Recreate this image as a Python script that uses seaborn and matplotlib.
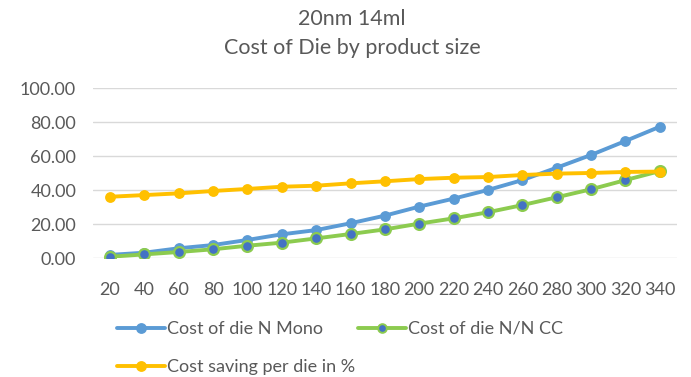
import numpy as np
import pandas as pd
import seaborn as sns
import matplotlib.pyplot as plt
from matplotlib.lines import Line2D

# Product sizes and per-die series
sizes = [20, 40, 60, 80, 100, 120, 140, 160, 180, 200, 220, 240, 260, 280, 300, 320, 340]
mono_cost = [2.0, 3.3, 5.9, 7.8, 10.8, 14.1, 16.6, 20.6, 25.1, 30.4, 35.1, 40.2, 46.0, 53.3, 60.8, 69.0, 77.4]
nncc_cost = [0.9, 2.3, 3.7, 5.3, 7.4, 9.2, 11.7, 14.3, 17.0, 20.4, 23.5, 27.1, 31.3, 35.9, 40.6, 46.0, 51.3]
saving_pct = [36.2, 37.2, 38.2, 39.6, 40.8, 42.1, 42.7, 44.1, 45.3, 46.6, 47.4, 47.8, 49.0, 49.8, 50.2, 50.8, 51.0]
series_names = ["Cost of die N Mono", "Cost of die N/N CC", "Cost saving per die in %"]
y_ticks = [0, 20, 40, 60, 80, 100]

sns.set_theme(style="white")
plt.rcParams["font.family"] = ["Lato", "DejaVu Sans"]
text_color = "#595959"
W, H = 691, 377

fig = plt.figure(figsize=(W / 100, H / 100), dpi=100)
ax = fig.add_axes([92.8 / W, 1 - 258.3 / H, (677 - 92.8) / W, 170 / H])

pos = np.arange(len(sizes))
df = pd.DataFrame({"pos": pos, "mono": mono_cost, "nncc": nncc_cost, "saving": saving_pct})

blue = "#5B9BD5"
green = "#8CCB4F"
inner_blue = "#4472C4"
yellow = "#FFC000"

lw = 2.8
ms = 7.8
sns.lineplot(data=df, x="pos", y="mono", ax=ax, color=blue, linewidth=lw,
             marker="o", markersize=ms, markeredgewidth=0, markerfacecolor=blue, zorder=3)
sns.lineplot(data=df, x="pos", y="nncc", ax=ax, color=green, linewidth=lw,
             marker="o", markersize=ms, markeredgewidth=1.6, markeredgecolor=green,
             markerfacecolor=inner_blue, zorder=4)
sns.lineplot(data=df, x="pos", y="saving", ax=ax, color=yellow, linewidth=lw,
             marker="o", markersize=ms, markeredgewidth=0, markerfacecolor=yellow, zorder=5)

ax.set_xlim(-0.5, len(sizes) - 0.5)
ax.set_ylim(0, 100)
ax.set_xticks(pos)
ax.set_xticklabels([str(s) for s in sizes])
ax.set_yticks(y_ticks)
ax.set_yticklabels([f"{v:.2f}" for v in y_ticks])
ax.set_xlabel("")
ax.set_ylabel("")
ax.grid(axis="y", color="#D9D9D9", linewidth=1)
ax.grid(axis="x", visible=False)
for s in ax.spines.values():
    s.set_visible(False)
ax.tick_params(axis="both", length=0, labelsize=13, colors=text_color)
ax.tick_params(axis="y", pad=12)
ax.tick_params(axis="x", pad=17)

fig.text(352 / W, 1 - 19 / H, "20nm 14ml", ha="center", va="center", fontsize=15.5, color=text_color)
fig.text(352 / W, 1 - 48 / H, "Cost of Die by product size", ha="center", va="center",
         fontsize=15.5, color=text_color)

h_mono = Line2D([], [], color=blue, lw=lw, marker="o", markersize=ms, markeredgewidth=0)
h_nncc = Line2D([], [], color=green, lw=lw, marker="o", markersize=ms * 0.8, markeredgewidth=1.4,
                markeredgecolor=green, markerfacecolor=inner_blue)
h_save = Line2D([], [], color=yellow, lw=lw, marker="o", markersize=ms, markeredgewidth=0)

leg_kw = dict(loc="upper left", frameon=False, fontsize=13, handlelength=2.65,
              handletextpad=0.1, labelspacing=1.22, borderaxespad=0, borderpad=0)
leg1 = fig.legend([h_mono, h_save], [series_names[0], series_names[2]],
                  bbox_to_anchor=(117 / W, 1 - 321 / H), **leg_kw)
leg2 = fig.legend([h_nncc], [series_names[1]],
                  bbox_to_anchor=(358 / W, 1 - 321 / H), **leg_kw)
for lg in (leg1, leg2):
    for t in lg.get_texts():
        t.set_color(text_color)

fig.savefig("out.png", dpi=100)
